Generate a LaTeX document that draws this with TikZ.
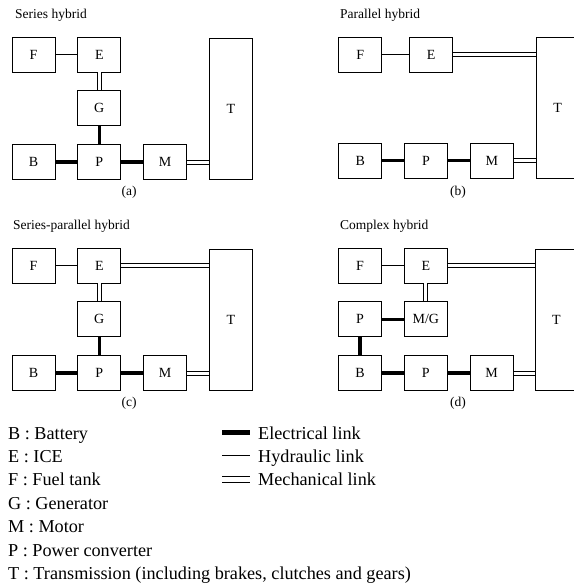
\documentclass[tikz,border=0pt]{standalone}
\usepackage{fontspec}
\setmainfont{Liberation Serif}
\usetikzlibrary{positioning}

\begin{document}
\begin{tikzpicture}[
  x=1pt, y=-1pt,
  font=\fontsize{13.5}{15}\selectfont,
  unit/.style={draw=black, fill=white, line width=0.8pt, minimum width=43pt, minimum height=35pt, inner sep=0pt, font=\fontsize{14}{16}\selectfont},
  trans/.style={unit, minimum height=141pt},
  elec/.style={draw=black, line width=3.6pt},
  hydr/.style={draw=black, line width=1.1pt},
  mech/.style={draw=black, line width=1pt, double=white, double distance=3pt},
  title/.style={anchor=base west, inner sep=0pt},
  tag/.style={inner sep=0pt},
  key/.style={anchor=base west, inner sep=0pt, font=\fontsize{18.2}{20}\selectfont}
]
\useasboundingbox (0,0) rectangle (573,588);

% (a) Series hybrid
\node[title] (ta) at (15,19) {Series hybrid};
\node[unit] (aF) at (33.5,54.5) {F};
\node[unit, right=22pt of aF] (aE) {E};
\node[unit, below=18pt of aE] (aG) {G};
\node[unit, below=18pt of aG] (aP) {P};
\node[unit, left=22pt of aP] (aB) {B};
\node[unit, right=22pt of aP] (aM) {M};
\node[trans, right=22pt of aM.south east, anchor=south west] (aT) {T};
\node[tag] (ca) at (129,192) {(a)};

\draw[hydr] (aF) -- (aE);
\draw[mech] (aE) -- (aG);
\draw[elec] (aG) -- (aP);
\draw[elec] (aB) -- (aP);
\draw[elec] (aP) -- (aM);
\draw[mech] (aM.east) -- (aM.east -| aT.west);

% (b) Parallel hybrid
\node[title] (tb) at (340,19) {Parallel hybrid};
\node[unit] (bF) at (360.3,54.5) {F};
\node[unit, right=27pt of bF] (bE) {E};
\node[unit] (bB) at (360.3,160.5) {B};
\node[unit, right=22pt of bB] (bP) {P};
\node[unit, right=22pt of bP] (bM) {M};
\node[trans, right=22pt of bM.south east, anchor=south west] (bT) {T};
\node[tag] (cb) at (458,192) {(b)};

\draw[hydr] (bF) -- (bE);
\draw[mech] (bE.east) -- (bE.east -| bT.west);
\draw[elec] (bB) -- (bP);
\draw[elec] (bP) -- (bM);
\draw[mech] (bM.east) -- (bM.east -| bT.west);

% (c) Series-parallel hybrid
\node[title] (tc) at (13,229) {Series-parallel hybrid};
\node[unit] (cF) at (33.5,265.5) {F};
\node[unit, right=22pt of cF] (cE) {E};
\node[unit, below=18pt of cE] (cG) {G};
\node[unit, below=18pt of cG] (cP) {P};
\node[unit, left=22pt of cP] (cB) {B};
\node[unit, right=22pt of cP] (cM) {M};
\node[trans, right=22pt of cM.south east, anchor=south west] (cT) {T};
\node[tag] (cc) at (129,403) {(c)};

\draw[hydr] (cF) -- (cE);
\draw[mech] (cE) -- (cG);
\draw[mech] (cE.east) -- (cE.east -| cT.west);
\draw[elec] (cG) -- (cP);
\draw[elec] (cB) -- (cP);
\draw[elec] (cP) -- (cM);
\draw[mech] (cM.east) -- (cM.east -| cT.west);

% (d) Complex hybrid
\node[title] (td) at (340,229) {Complex hybrid};
\node[unit] (dF) at (360,265.5) {F};
\node[unit, right=22pt of dF] (dE) {E};
\node[unit, below=18pt of dE] (dMG) {M/G};
\node[unit, left=22pt of dMG] (dPu) {P};
\node[unit, below=18pt of dPu] (dB) {B};
\node[unit, right=22pt of dB] (dP) {P};
\node[unit, right=22pt of dP] (dM) {M};
\node[trans, right=21pt of dM.south east, anchor=south west] (dT) {T};
\node[tag] (cd) at (458,403) {(d)};

\draw[hydr] (dF) -- (dE);
\draw[mech] (dE.east) -- (dE.east -| dT.west);
\draw[mech] (dE) -- (dMG);
\draw[elec] (dPu) -- (dMG);
\draw[elec] (dPu) -- (dB);
\draw[elec] (dB) -- (dP);
\draw[elec] (dP) -- (dM);
\draw[mech] (dM.east) -- (dM.east -| dT.west);

% Legend
\node[key] (kB) at (8,439) {B : Battery};
\node[key] (kE) at (8,462.4) {E : ICE};
\node[key] (kF) at (8,485.8) {F : Fuel tank};
\node[key] (kG) at (8,509.2) {G : Generator};
\node[key] (kM) at (8,532.6) {M : Motor};
\node[key] (kP) at (8,556) {P : Power converter};
\node[key] (kT) at (8,579.4) {T : Transmission (including brakes, clutches and gears)};

\node[key] (kel) at (258,439) {Electrical link};
\node[key] (khy) at (258,462.4) {Hydraulic link};
\node[key] (kme) at (258,485.8) {Mechanical link};
\draw[elec, line width=4.2pt] ([xshift=-36pt,yshift=6.5pt]kel.base west) -- ([xshift=-8pt,yshift=6.5pt]kel.base west);
\draw[hydr] ([xshift=-36pt,yshift=6.5pt]khy.base west) -- ([xshift=-8pt,yshift=6.5pt]khy.base west);
\draw[mech, line width=1.1pt, double distance=4.4pt] ([xshift=-36pt,yshift=6.5pt]kme.base west) -- ([xshift=-8pt,yshift=6.5pt]kme.base west);
\end{tikzpicture}
\end{document}
